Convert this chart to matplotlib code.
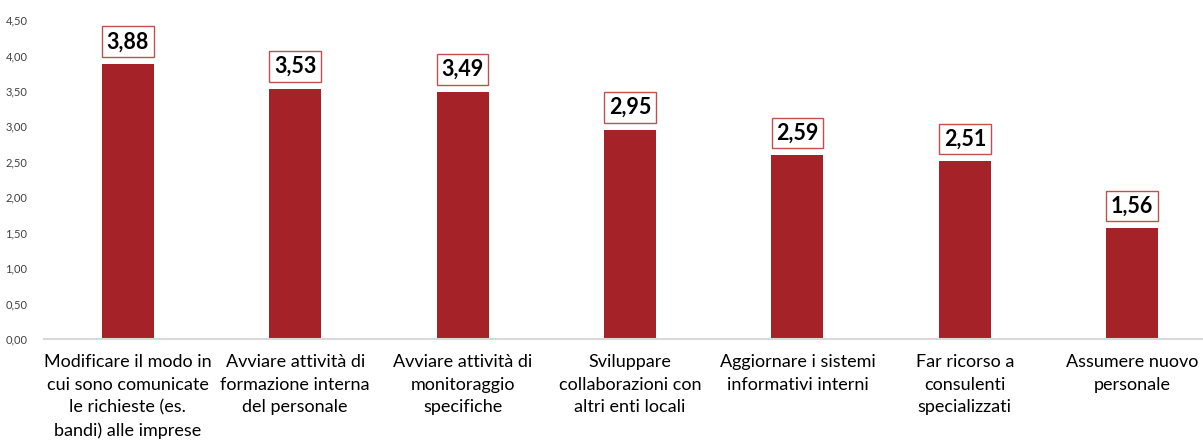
import matplotlib
matplotlib.use('Agg')
import matplotlib.pyplot as plt

# Categories and values (Italian labels as in the original)
categories = ['Modificare il modo in\ncui sono comunicate\nle richieste (es.\nbandi) alle imprese',
              'Avviare attività di\nformazione interna\ndel personale',
              'Avviare attività di\nmonitoraggio\nspecifiche',
              'Sviluppare\ncollaborazioni con\naltri enti locali',
              'Aggiornare i sistemi\ninformativi interni',
              'Far ricorso a\nconsulenti\nspecializzati',
              'Assumere nuovo\npersonale']
values = [3.88, 3.53, 3.49, 2.95, 2.59, 2.51, 1.56]
yticks = [0, 0.5, 1.0, 1.5, 2.0, 2.5, 3.0, 3.5, 4.0, 4.5]

plt.rcParams['font.family'] = ['Lato', 'DejaVu Sans']

W, H = 1203, 442
fig = plt.figure(figsize=(W/100, H/100), dpi=100)
# axes spans past the right edge, like the original
ax = fig.add_axes([44/W, (H-339)/H, 1172/W, 319/H])

x = range(len(values))
ax.bar(x, values, width=0.31, color='#A52228', zorder=2)

for xi, v in zip(x, values):
    ax.annotate(('%.2f' % v).replace('.', ','), (xi, v),
                xytext=(0, 16), textcoords='offset points',
                ha='center', va='center', fontsize=15.5, fontweight='bold',
                color='black',
                bbox=dict(boxstyle='square,pad=0.22', facecolor='white',
                          edgecolor='#C0504D', linewidth=1))

ax.set_xlim(-0.5, len(values)-0.5)
ax.set_ylim(0, 4.5)
ax.set_yticks(yticks)
ax.set_yticklabels([('%.2f' % t).replace('.', ',') for t in yticks],
                   fontsize=8, color='#404040')
ax.set_xticks(list(x))
ax.set_xticklabels(categories, fontsize=13, color='black', linespacing=1.5)
ax.tick_params(axis='both', length=0)
ax.tick_params(axis='y', pad=12)
ax.tick_params(axis='x', pad=11)

for s in ['top', 'right', 'left']:
    ax.spines[s].set_visible(False)
ax.spines['bottom'].set_color('#D9D9D9')
ax.spines['bottom'].set_linewidth(1.5)

fig.savefig('out.png', dpi=100)
